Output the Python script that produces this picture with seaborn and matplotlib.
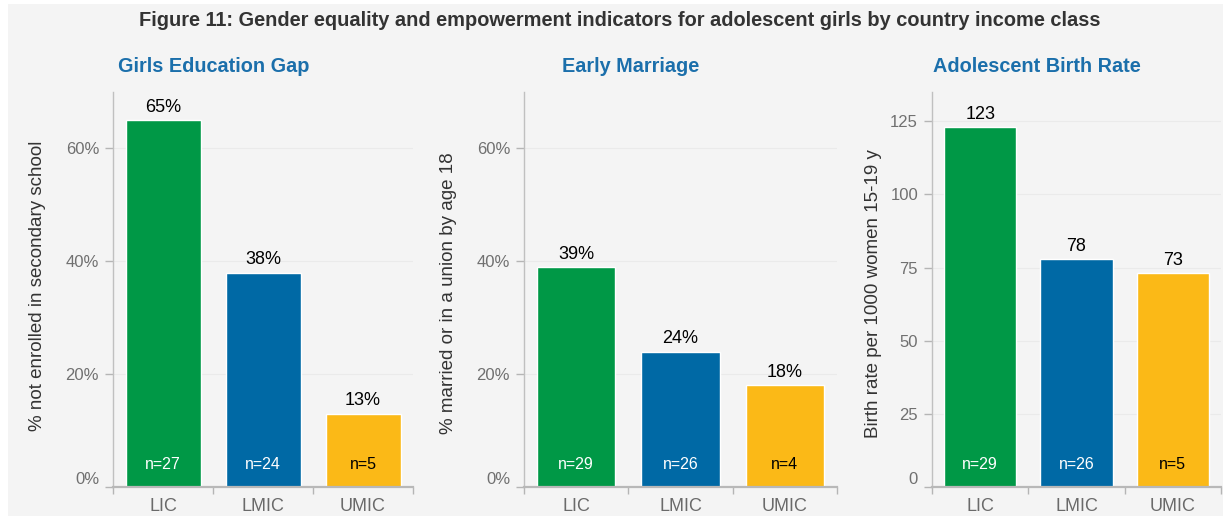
import matplotlib
matplotlib.use("Agg")
import matplotlib.pyplot as plt
from matplotlib.patches import Rectangle
from matplotlib.transforms import ScaledTranslation
import seaborn as sns
import pandas as pd

# Data
income_classes = ["LIC", "LMIC", "UMIC"]
education_gap = [65, 38, 13]          # % not enrolled in secondary school
education_n = [27, 24, 5]
early_marriage = [39, 24, 18]         # % married or in a union by age 18
marriage_n = [29, 26, 4]
birth_rate = [123, 78, 73]            # births per 1000 women aged 15-19
birth_n = [29, 26, 5]

BG = "#f4f4f4"
palette = {"LIC": "#009846", "LMIC": "#0069a5", "UMIC": "#fbb917"}
n_colors = {"LIC": "white", "LMIC": "white", "UMIC": "black"}
TITLE_BLUE = "#1b6fab"

sns.set_theme(style="white")
plt.rcParams["font.family"] = ["Liberation Sans", "DejaVu Sans"]

W, H = 1223, 523
fig = plt.figure(figsize=(W / 100, H / 100), dpi=100, facecolor="white")
fig.patches.append(Rectangle((8 / W, 7 / H), (W - 8) / W, (516 - 4) / H,
                             transform=fig.transFigure, facecolor=BG,
                             edgecolor="none", zorder=-10))


def px_axes(left, right, top=92, bottom=487):
    return fig.add_axes([left / W, (H - bottom) / H, (right - left) / W, (bottom - top) / H])


panels = [
    dict(vals=education_gap, ns=education_n, ylim=70, ticks=[0, 20, 40, 60], pct=True,
         ylabel="% not enrolled in secondary school", title="Girls Education Gap",
         box=(113, 413), label_gap=67, label_y=0.51, title_x=214),
    dict(vals=early_marriage, ns=marriage_n, ylim=70, ticks=[0, 20, 40, 60], pct=True,
         ylabel="% married or in a union by age 18", title="Early Marriage",
         box=(524, 837), label_gap=67, label_y=0.49, title_x=631),
    dict(vals=birth_rate, ns=birth_n, ylim=135, ticks=[0, 25, 50, 75, 100, 125], pct=False,
         ylabel="Birth rate per 1000 women 15-19 y", title="Adolescent Birth Rate",
         box=(932, 1221), label_gap=50, label_y=0.49, title_x=1037),
]

for p in panels:
    ax = px_axes(*p["box"])
    ax.set_facecolor("none")
    df = pd.DataFrame({"cls": income_classes, "val": p["vals"], "n": p["ns"]})
    sns.barplot(data=df, x="cls", y="val", hue="cls", palette=palette, order=income_classes,
                hue_order=income_classes, width=0.75, saturation=1, legend=False, ax=ax)
    ax.set_xlim(-0.5, 2.5)
    ax.set_ylim(0, p["ylim"])

    # faint gridlines
    for t in p["ticks"][1:]:
        ax.axhline(t, color="#eaeaea", lw=0.8, zorder=0)

    ax.set_yticks(p["ticks"])
    ax.set_yticklabels([f"{t}%" if p["pct"] else f"{t}" for t in p["ticks"]])
    ax.tick_params(axis="y", left=True, length=6, width=1, color="#b5b5b5", pad=4,
                   labelsize=12, labelcolor="#707070")
    zero_lbl = ax.get_yticklabels()[0]
    zero_lbl.set_transform(zero_lbl.get_transform() +
                           ScaledTranslation(0, 9 / 100, fig.dpi_scale_trans))

    ax.set_xticks([0, 1, 2])
    ax.set_xticklabels(income_classes)
    ax.set_xticks([-0.5, 0.5, 1.5, 2.5], minor=True)
    ax.tick_params(axis="x", which="major", bottom=True, length=0, pad=8,
                   labelsize=13, labelcolor="#6a6a6a")
    ax.tick_params(axis="x", which="minor", bottom=True, length=5, width=1, color="#b5b5b5")
    ax.set_xlabel("")

    for side in ("top", "right"):
        ax.spines[side].set_visible(False)
    ax.spines["left"].set_color("#c0c0c0")
    ax.spines["left"].set_linewidth(1.0)
    ax.spines["bottom"].set_color("#b8b8b8")
    ax.spines["bottom"].set_linewidth(1.6)

    ax.set_ylabel(p["ylabel"], fontsize=13.5, color="#333333")
    width_px = p["box"][1] - p["box"][0]
    ax.yaxis.set_label_coords(-p["label_gap"] / width_px, p["label_y"])

    for i, (cls, v, n) in enumerate(zip(income_classes, p["vals"], p["ns"])):
        ax.annotate(f"{v}%" if p["pct"] else f"{v}", (i, v), xytext=(0, 3),
                    textcoords="offset points", ha="center", va="bottom",
                    fontsize=13, color="black")
        ax.annotate(f"n={n}", (i, 0), xytext=(0, 16), textcoords="offset points",
                    ha="center", va="center", fontsize=11.5, color=n_colors[cls])

    fig.text(p["title_x"] / W, 1 - 67 / H, p["title"], ha="center", va="center",
             fontsize=14.3, fontweight="bold", color=TITLE_BLUE)

fig.text(620 / W, 1 - 20 / H,
         "Figure 11: Gender equality and empowerment indicators for adolescent girls by country income class",
         ha="center", va="center", fontsize=14.4, fontweight="bold", color="#333333")

fig.savefig("out.png", dpi=100, facecolor="white")
